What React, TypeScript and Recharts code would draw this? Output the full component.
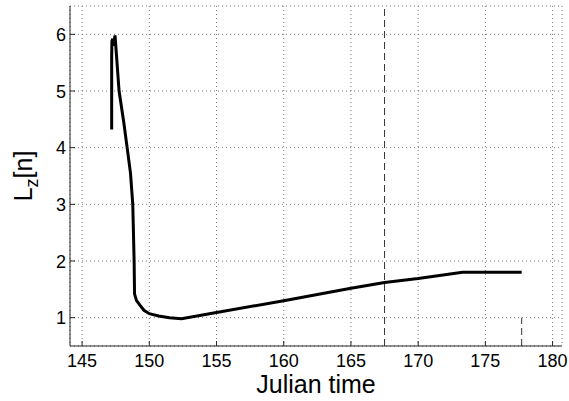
import { LineChart, Line, XAxis, YAxis, CartesianGrid, ReferenceLine } from 'recharts'

const FONT = '"Liberation Sans", Arial, Helvetica, sans-serif'

const julianTime = [
  147.2, 147.2, 147.22, 147.28, 147.34, 147.45, 147.75, 148.1, 148.35, 148.6, 148.77, 148.87,
  148.9, 149.05, 149.3, 149.6, 150.0, 150.7, 151.5, 152.4, 155, 160, 165, 167.5,
  170, 173.3, 177.7,
]
const lz = [
  4.32, 5.6, 5.88, 5.92, 5.8, 5.98, 5.0, 4.45, 4.0, 3.55, 3.0, 2.0,
  1.42, 1.3, 1.22, 1.13, 1.07, 1.03, 1.0, 0.98, 1.09, 1.3, 1.52, 1.62,
  1.69, 1.8, 1.8,
]
const xTicks = [145, 150, 155, 160, 165, 170, 175, 180]
const yTicks = [1, 2, 3, 4, 5, 6]
const eventTime = 167.5
const endTime = 177.7

const data = julianTime.map((t, i) => ({ t, lz: lz[i] }))

function XTick({ x, y, payload }: any) {
  return (
    <g>
      <line x1={x} y1={y} x2={x} y2={y - 5} stroke="#262626" />
      <text x={x} y={y + 21} textAnchor="middle" fontSize={18} fontFamily={FONT} fill="#000">
        {payload.value}
      </text>
    </g>
  )
}

function YTick({ x, y, payload }: any) {
  return (
    <g>
      <line x1={x} y1={y} x2={x + 5} y2={y} stroke="#262626" />
      <text x={x - 4} y={y + 6.5} textAnchor="end" fontSize={18} fontFamily={FONT} fill="#000">
        {payload.value}
      </text>
    </g>
  )
}

function XLabel({ viewBox }: any) {
  const cx = viewBox.x + viewBox.width / 2
  return (
    <text x={cx} y={393} textAnchor="middle" fontSize={25} fontFamily={FONT} fill="#000">
      Julian time
    </text>
  )
}

function YLabel({ viewBox }: any) {
  const cx = 32
  const cy = viewBox.y + viewBox.height / 2
  return (
    <text
      x={cx}
      y={cy}
      transform={`rotate(-90 ${cx} ${cy})`}
      textAnchor="middle"
      fontSize={25}
      fontFamily={FONT}
      fill="#000"
    >
      L<tspan fontSize={18} dy={6}>z</tspan>
      <tspan dy={-6}>[n]</tspan>
    </text>
  )
}

export default function App() {
  return (
    <div style={{ position: 'absolute', left: 0, top: 0, background: '#fff' }}>
      <LineChart width={569} height={401} data={data} margin={{ top: 6, right: 7, bottom: 0, left: 0 }}>
        <CartesianGrid stroke="#777" strokeDasharray="1 3" />
        <XAxis
          dataKey="t"
          type="number"
          domain={[144.1, 180.7]}
          ticks={xTicks}
          allowDataOverflow
          height={55}
          tickSize={0}
          tickMargin={0}
          tickLine={false}
          stroke="#262626"
          tick={<XTick />}
          label={<XLabel />}
        />
        <YAxis
          type="number"
          domain={[0.5, 6.5]}
          ticks={yTicks}
          allowDataOverflow
          width={70}
          tickSize={0}
          tickMargin={0}
          tickLine={false}
          stroke="#262626"
          tick={<YTick />}
          label={<YLabel />}
        />
        <ReferenceLine x={eventTime} stroke="#333" strokeDasharray="7 4" />
        <ReferenceLine
          segment={[{ x: endTime, y: 0.5 }, { x: endTime, y: 1.0 }]}
          stroke="#333"
          strokeDasharray="7 4"
        />
        <Line
          type="linear"
          dataKey="lz"
          stroke="#000"
          strokeWidth={3}
          dot={false}
          isAnimationActive={false}
        />
      </LineChart>
    </div>
  )
}
